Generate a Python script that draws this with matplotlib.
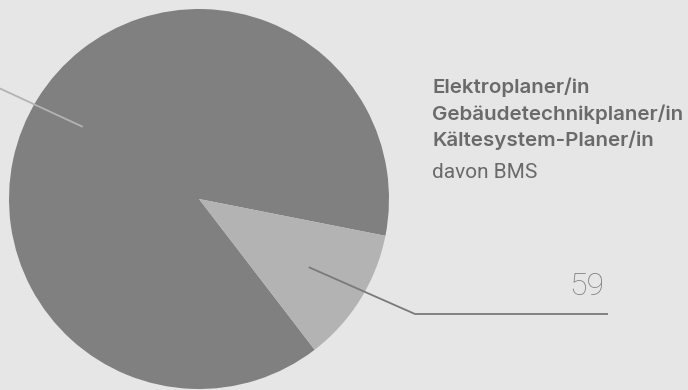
import numpy as np
import matplotlib.pyplot as plt

# Anteile: Planer/innen gesamt vs. davon BMS
labels = ["Elektroplaner/in\nGebäudetechnikplaner/in\nKältesystem-Planer/in", "davon BMS"]
values = [455, 59]
colors = ["#808080", "#b3b3b3"]

bg = "#e6e6e6"
W, H = 688, 390

fig = plt.figure(figsize=(W / 100, H / 100), dpi=100, facecolor=bg)
ax = fig.add_axes([0, 0, 1, 1])
ax.set_facecolor(bg)

cx, cy, r = 199, 191, 190
start = -52.5 - 360 * values[0] / sum(values)
wedges, _ = ax.pie(values, colors=colors, startangle=start, counterclock=True,
                   center=(cx, cy), radius=r, frame=True,
                   wedgeprops=dict(linewidth=0))
ax.set_xlim(0, W)
ax.set_ylim(0, H)
ax.set_aspect("equal")
ax.axis("off")

# Leader line of the large slice (its label sits off to the left)
w = wedges[0]
mid = np.deg2rad((w.theta1 + w.theta2) / 2)
x0, y0 = cx + 0.72 * r * np.cos(mid), cy + 0.72 * r * np.sin(mid)
ax.plot([x0, -40], [y0, 320], color="#b3b3b3", lw=1.3, solid_capstyle="butt")

# Leader line of the small slice
w = wedges[1]
mid = np.deg2rad((w.theta1 + w.theta2) / 2)
x0, y0 = cx + 0.68 * r * np.cos(mid), cy + 0.68 * r * np.sin(mid)
ax.plot([x0, 415, 608], [y0, 76, 76], color="#7a7a7a", lw=1.3,
        solid_joinstyle="miter", solid_capstyle="butt")
ax.text(604, 95, str(values[1]), ha="right", va="baseline", fontsize=23,
        family="Roboto", fontweight="light", color="#808080")

# Legend text
tc = "#6a6a6a"
for i, line in enumerate(labels[0].split("\n")):
    ax.text(432, 297 - i * 26.5, line, ha="left", va="baseline", fontsize=14.8,
            family="Inter", fontweight="semibold", color=tc)
ax.text(432, 212, labels[1], ha="left", va="baseline", fontsize=15,
        family="Roboto", color=tc)

fig.savefig("out.png", dpi=100, facecolor=bg)
